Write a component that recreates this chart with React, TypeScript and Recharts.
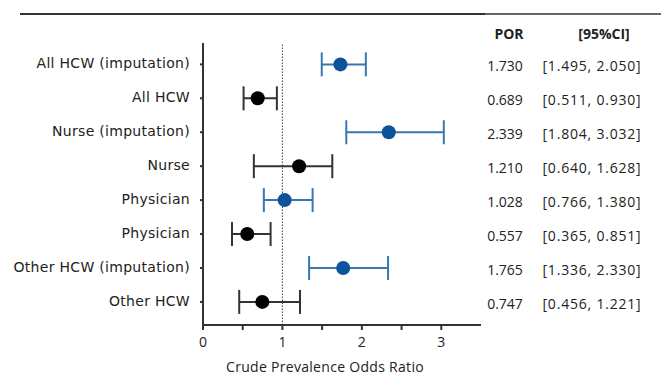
import React from 'react';
import { ScatterChart, Scatter, XAxis, YAxis, ErrorBar, ReferenceLine, Label } from 'recharts';

const categories = [
  'All HCW (imputation)',
  'All HCW',
  'Nurse (imputation)',
  'Nurse',
  'Physician',
  'Physician',
  'Other HCW (imputation)',
  'Other HCW',
];
const por = [1.730, 0.689, 2.339, 1.210, 1.028, 0.557, 1.765, 0.747];
const ciLower = [1.495, 0.511, 1.804, 0.640, 0.766, 0.365, 1.336, 0.456];
const ciUpper = [2.050, 0.930, 3.032, 1.628, 1.380, 0.851, 2.330, 1.221];
const porText = ['1.730', '0.689', '2.339', '1.210', '1.028', '0.557', '1.765', '0.747'];
const ciText = [
  '[1.495, 2.050]',
  '[0.511, 0.930]',
  '[1.804, 3.032]',
  '[0.640, 1.628]',
  '[0.766, 1.380]',
  '[0.365, 0.851]',
  '[1.336, 2.330]',
  '[0.456, 1.221]',
];
const imputed = [true, false, true, false, true, false, true, false];
const xTicks = [0, 0.5, 1, 1.5, 2, 2.5, 3];
const rowTicks = [0, 1, 2, 3, 4, 5, 6, 7];

const rows = categories.map((name, i) => ({
  idx: i,
  name,
  por: por[i],
  err: [por[i] - ciLower[i], ciUpper[i] - por[i]],
}));
const blueRows = rows.filter((r, i) => imputed[i]);
const blackRows = rows.filter((r, i) => !imputed[i]);

const FONT = '"Open Sans", sans-serif';
const LABEL_FONT = '"DejaVu Sans", sans-serif';
const BLUE_PT = '#0C5398';
const BLUE_BAR = '#3A76B2';
const BLACK_PT = '#000000';
const BLACK_BAR = '#333333';
const AXIS = '#333333';

const LeftTick = (props: any) => {
  const { x, y, payload } = props;
  return (
    <text x={x} y={y} dy={4} textAnchor="end" fontFamily={LABEL_FONT} fontSize={14} fill="#222" letterSpacing={0.3}>
      {categories[payload.value]}
    </text>
  );
};

const RightTick = (props: any) => {
  const { y, payload } = props;
  const i = payload.value;
  return (
    <g>
      {i === 0 && (
        <g>
          <text x={509} y={y - 30} dy={5} textAnchor="middle" fontFamily={FONT} fontSize={14} fontWeight="bold" fill="#222">
            POR
          </text>
          <text x={604} y={y - 30} dy={5} textAnchor="middle" fontFamily={FONT} fontSize={14} fontWeight="bold" fill="#222">
            [95%CI]
          </text>
        </g>
      )}
      <text x={505} y={y + 2} dy={5} textAnchor="middle" fontFamily={FONT} fontSize={14} fill="#222">
        {porText[i]}
      </text>
      <text x={592} y={y + 2} dy={5} textAnchor="middle" fontFamily={FONT} fontSize={14} fill="#222" letterSpacing={0.8}>
        {ciText[i]}
      </text>
    </g>
  );
};

const dot = (color: string) => (props: any) => (
  <circle cx={props.cx} cy={props.cy} r={7} fill={color} />
);

export default function App() {
  return (
    <div style={{ position: 'absolute', left: 0, top: 0, width: 661, height: 378, background: '#fff' }}>
      <div style={{ position: 'absolute', left: 20, top: 13, width: 465, height: 2, background: '#333' }} />
      <div style={{ position: 'absolute', left: 485, top: 13, width: 176, height: 2, background: '#666' }} />
      <ScatterChart width={661} height={378} margin={{ top: 43, right: 5, bottom: 0, left: 3 }}>
        <XAxis
          type="number"
          dataKey="por"
          domain={[0, 3.5]}
          ticks={xTicks}
          tickFormatter={(v: number) => (Number.isInteger(v) ? String(v) : '')}
          allowDataOverflow
          height={53}
          tickSize={5}
          tickMargin={7}
          stroke={AXIS}
          strokeWidth={2}
          tick={{ fontFamily: FONT, fontSize: 14, fill: '#222' }}
        >
          <Label
            value="Crude Prevalence Odds Ratio"
            position="insideBottom"
            offset={6}
            dx={-17}
            style={{ fontFamily: FONT, fontSize: 14, fill: '#222', letterSpacing: 0.3 }}
          />
        </XAxis>
        <YAxis
          type="number"
          dataKey="idx"
          domain={[-0.63, 7.68]}
          reversed
          ticks={rowTicks}
          allowDataOverflow
          width={200}
          tickSize={3}
          tickMargin={10}
          stroke={AXIS}
          strokeWidth={2}
          tick={<LeftTick />}
        />
        <YAxis
          yAxisId="right"
          orientation="right"
          type="number"
          dataKey="idx"
          domain={[-0.63, 7.68]}
          reversed
          ticks={rowTicks}
          allowDataOverflow
          width={175}
          axisLine={false}
          tickLine={false}
          tick={<RightTick />}
        />
        <ReferenceLine x={1} stroke="#444" strokeDasharray="1.5 1.5" strokeWidth={1} />
        <Scatter data={blueRows} dataKey="idx" isAnimationActive={false} shape={dot(BLUE_PT)}>
          <ErrorBar dataKey="err" direction="x" width={12} stroke={BLUE_BAR} strokeWidth={2} />
        </Scatter>
        <Scatter data={blackRows} dataKey="idx" isAnimationActive={false} shape={dot(BLACK_PT)}>
          <ErrorBar dataKey="err" direction="x" width={12} stroke={BLACK_BAR} strokeWidth={2} />
        </Scatter>
        <Scatter yAxisId="right" data={rows} dataKey="idx" isAnimationActive={false} shape={() => null} />
      </ScatterChart>
    </div>
  );
}
